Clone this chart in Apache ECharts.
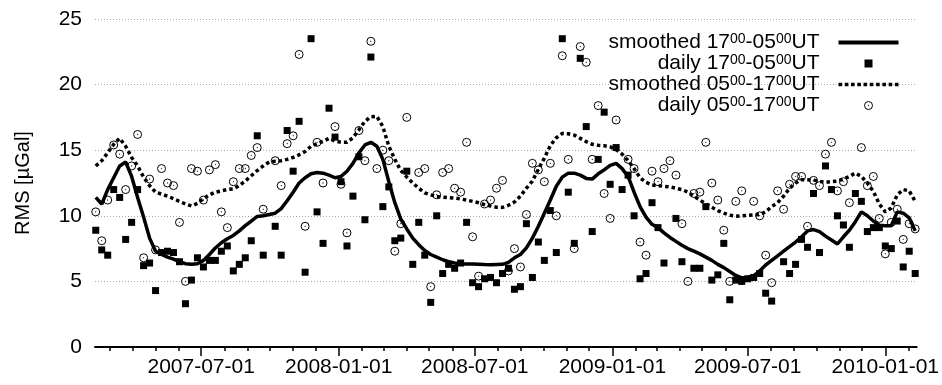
<!DOCTYPE html>
<html>
<head>
<meta charset="utf-8">
<script src="https://cdn.jsdelivr.net/npm/echarts@6.0.0/dist/echarts.min.js"></script>
<style>
  html, body { margin: 0; padding: 0; background: #fff; }
  #chart { width: 942px; height: 385px; }
</style>
</head>
<body>
<div id="chart"></div>
<script>
// sample dates (every 8 days)
const dates = [
  '2007-02-10','2007-02-18','2007-02-26','2007-03-06','2007-03-14','2007-03-22','2007-03-30',
  '2007-04-07','2007-04-15','2007-04-23','2007-05-01','2007-05-09','2007-05-17','2007-05-25',
  '2007-06-02','2007-06-10','2007-06-18','2007-06-26','2007-07-04','2007-07-12','2007-07-20',
  '2007-07-28','2007-08-05','2007-08-13','2007-08-21','2007-08-29','2007-09-06','2007-09-14',
  '2007-09-22','2007-09-30','2007-10-08','2007-10-16','2007-10-24','2007-11-01','2007-11-09',
  '2007-11-17','2007-11-25','2007-12-03','2007-12-11','2007-12-19','2007-12-27','2008-01-04',
  '2008-01-12','2008-01-20','2008-01-28','2008-02-05','2008-02-13','2008-02-21','2008-02-29',
  '2008-03-08','2008-03-16','2008-03-24','2008-04-01','2008-04-09','2008-04-17','2008-04-25',
  '2008-05-03','2008-05-11','2008-05-19','2008-05-27','2008-06-04','2008-06-12','2008-06-20',
  '2008-06-28','2008-07-06','2008-07-14','2008-07-22','2008-07-30','2008-08-07','2008-08-15',
  '2008-08-23','2008-08-31','2008-09-08','2008-09-16','2008-09-24','2008-10-02','2008-10-10',
  '2008-10-18','2008-10-26','2008-11-03','2008-11-11','2008-11-19','2008-11-27','2008-12-05',
  '2008-12-13','2008-12-21','2008-12-29','2009-01-06','2009-01-14','2009-01-22','2009-01-30',
  '2009-02-07','2009-02-15','2009-02-23','2009-03-03','2009-03-11','2009-03-19','2009-03-27',
  '2009-04-04','2009-04-12','2009-04-20','2009-04-28','2009-05-06','2009-05-14','2009-05-22',
  '2009-05-30','2009-06-07','2009-06-15','2009-06-23','2009-07-01','2009-07-09','2009-07-17',
  '2009-07-25','2009-08-02','2009-08-10','2009-08-18','2009-08-26','2009-09-03','2009-09-11',
  '2009-09-19','2009-09-27','2009-10-05','2009-10-13','2009-10-21','2009-10-29','2009-11-06',
  '2009-11-14','2009-11-22','2009-11-30','2009-12-08','2009-12-16','2009-12-24','2010-01-01',
  '2010-01-09','2010-01-17','2010-01-25','2010-02-02','2010-02-10'
];

// daily 17-05 UT (squares)
const nightDaily = [
  8.9, 7.4, 7.0, 12.0, 11.4, 8.2, 9.5,
  12.0, 6.2, 6.4, 4.3, 7.2, 7.3, 7.2,
  6.5, 3.3, 5.1, 6.8, 6.1, 6.6, 6.6,
  7.3, 7.7, 5.8, 6.3, 6.8, 8.1, 16.1,
  7.0, null, 9.2, 7.0, 16.5, 13.4, 17.2,
  5.7, 23.5, 10.3, 7.9, 18.2, 16.0, 12.6,
  7.7, 11.5, 14.5, 9.7, 22.1, null, 10.7,
  12.2, 8.1, 8.3, 13.4, 6.3, 9.5, 7.0,
  3.4, 10.0, 5.6, 6.3, 6.0, 6.4, 9.5,
  4.9, 4.6, 5.2, 5.3, 4.9, 5.6, 6.0,
  4.4, 4.6, 9.4, 5.3, 8.0, 6.6, 10.4,
  7.2, 23.5, 11.8, 7.9, 22.0, 16.8, 8.8,
  14.3, 17.9, 12.4, 15.2, 12.0, 13.1, 10.0,
  5.2, 5.6, 11.0, 9.1, 6.4, null, 9.8,
  6.5, null, 6.0, 6.0, 10.7, 5.1, 5.5,
  7.9, 3.6, 5.1, 5.0, 5.2, 5.3, 5.6,
  4.1, 3.5, null, 6.5, 5.6, 6.3, 8.2,
  7.6, 11.7, 7.2, 13.8, 12.0, 10.0, 9.3,
  7.6, 11.7, 11.1, 8.8, 9.1, 9.1, 7.7,
  7.5, 9.6, 6.1, 7.3, 5.6
];

// daily 05-17 UT (circles)
const dayDaily = [
  10.3, 8.1, 11.2, 15.4, 14.7, 12.0, 13.8,
  16.2, 6.8, 12.8, 7.4, 13.6, 12.5, 12.3,
  9.5, 5.0, 13.6, 13.4, 11.2, 13.5, 13.9,
  10.3, 9.1, 12.6, 13.6, 13.6, 14.6, 15.2,
  10.5, null, 14.2, 12.3, 15.5, 16.1, 22.3,
  9.2, null, 15.6, 12.5, null, 16.8, 12.4,
  8.7, null, 16.5, 14.2, 23.3, 13.6, 15.0,
  14.2, 7.3, 9.4, 17.5, null, 13.3, 13.6,
  4.6, 11.6, 13.3, 13.6, 12.1, 11.8, 15.6,
  8.4, 5.4, 10.9, 11.2, 12.1, 12.7, 5.8,
  7.5, 6.1, 10.1, 14.0, 13.5, 12.6, 14.0,
  10.0, 22.2, 14.3, 7.5, 22.9, 21.7, 14.3,
  18.4, 11.7, 9.8, 17.3, null, 14.3, 13.6,
  8.0, 7.0, 13.4, 12.6, 13.6, 14.2, 13.1,
  9.4, 5.0, 11.7, 11.8, 15.6, 12.5, 11.2,
  8.9, 5.0, 11.1, 11.9, null, 11.1, 10.0,
  7.0, 4.9, 11.9, 10.5, 12.4, 13.0, 13.0,
  9.2, 12.7, 12.3, 14.7, 15.6, 11.9, 12.6,
  11.0, null, 15.2, 12.3, 13.0, 9.8, 7.1,
  9.5, 10.5, 8.2, 9.4, 9.0
];

// smoothed 17-05 UT (solid)
const nightSmooth = [
  11.4, 10.9, 12.0, 12.9, 13.8, 14.1, 13.0,
  11.4, 9.9, 8.3, 7.3, 7.05, 6.85, 6.7,
  6.5, 6.35, 6.3, 6.35, 6.6, 7.05, 7.55,
  7.95, 8.25, 8.5, 8.85, 9.25, 9.6, 9.95,
  10.0, 10.1, 10.2, 10.55, 11.15, 11.8, 12.5,
  12.9, 13.2, 13.3, 13.25, 13.1, 12.9, 13.0,
  13.4, 14.0, 14.8, 15.4, 15.6, 15.3, 14.3,
  12.6, 11.0, 9.75, 9.0, 8.3, 7.8, 7.35,
  7.05, 6.85, 6.65, 6.5, 6.4, 6.35, 6.33,
  6.32, 6.31, 6.28, 6.26, 6.28, 6.3, 6.45,
  6.8, 7.05, 7.55, 8.3, 9.2, 10.2, 11.2,
  12.25, 12.95, 13.25, 13.25, 13.1, 12.85, 12.8,
  13.2, 13.5, 13.85, 14.0, 13.6, 13.0, 11.8,
  10.7, 9.9, 9.35, 9.1, 8.7, 8.35, 8.05,
  7.75, 7.5, 7.3, 7.1, 6.85, 6.6, 6.3,
  6.05, 5.75, 5.45, 5.27, 5.3, 5.42, 5.8,
  6.25, 6.6, 6.95, 7.3, 7.65, 8.0, 8.4,
  8.85, 8.95, 8.8, 8.45, 8.15, 7.85, 8.4,
  8.9, 9.55, 10.3, 10.0, 9.6, 9.28, 9.24,
  9.24, 10.3, 10.2, 9.85, 8.85
];

// smoothed 05-17 UT (dotted)
const daySmooth = [
  13.8, 14.2, 14.8, 15.45, 15.9, 15.3, 14.45,
  13.8, 12.95, 12.3, 11.8, 11.65, 11.5, 11.3,
  11.1, 10.9, 10.75, 10.95, 11.3, 11.6, 11.8,
  11.9, 12.0, 12.05, 12.3, 12.65, 13.05, 13.45,
  13.8, 14.1, 14.15, 14.2, 14.3, 14.45, 14.65,
  14.9, 15.3, 15.5, 15.67, 15.9, 15.7, 15.6,
  15.6, 15.95, 16.55, 17.2, 17.55, 17.58, 16.8,
  15.3, 14.3, 13.45, 12.95, 12.5, 12.1, 11.75,
  11.6, 11.47, 11.42, 11.38, 11.35, 11.28, 11.2,
  11.1, 11.0, 10.85, 10.75, 10.65, 10.64, 10.8,
  11.05, 11.5, 12.1, 12.65, 13.55, 14.4, 15.35,
  15.95, 16.28, 16.25, 16.15, 15.9, 15.65, 15.45,
  15.37, 15.34, 15.25, 15.05, 14.7, 14.2, 13.6,
  12.9, 12.55, 12.35, 12.29, 12.25, 12.2, 12.1,
  12.0, 11.8, 11.5, 11.2, 10.9, 10.65, 10.4,
  10.2, 10.05, 9.97, 10.0, 10.03, 10.06, 10.1,
  10.3, 10.7, 11.0, 11.5, 12.1, 12.5, 12.75,
  12.75, 12.72, 12.62, 12.55, 12.6, 12.65, 12.8,
  13.0, 13.26, 13.0, 12.5, 11.86, 10.9, 10.3,
  10.6, 11.6, 12.0, 11.9, 11.1
];

// axis
const xLabels = ['2007-07-01', '2008-01-01', '2008-07-01', '2009-01-01', '2009-07-01', '2010-01-01'];
const xMin = '2007-02-09';
const xMax = '2010-02-12';
const yTicks = [0, 5, 10, 15, 20, 25];

const FONT = 'Liberation Sans, Arial, Helvetica, sans-serif';

function toTime(s) {
  const p = s.split('-').map(Number);
  return Date.UTC(p[0], p[1] - 1, p[2]);
}
function pad(n) { return (n < 10 ? '0' : '') + n; }
function fmtDate(v) {
  const d = new Date(v);
  return d.getUTCFullYear() + '-' + pad(d.getUTCMonth() + 1) + '-' + pad(d.getUTCDate());
}
function pairs(vals) {
  const out = [];
  vals.forEach(function (v, i) { if (v != null) out.push([toTime(dates[i]), v]); });
  return out;
}

// monthly minor ticks
const monthTicks = [];
for (let y = 2007; y <= 2010; y++) {
  for (let m = 0; m < 12; m++) {
    const t = Date.UTC(y, m, 1);
    if (t >= toTime(xMin) && t <= toTime(xMax)) monthTicks.push(t);
  }
}
const labelTicks = xLabels.map(toTime);

// symbols, legend icons (60 x 9 box)
const circleDot = 'path://M0,10a10,10 0 1,0 20,0a10,10 0 1,0 -20,0zM9.4,10a0.6,0.6 0 1,0 1.2,0a0.6,0.6 0 1,0 -1.2,0z';
const iconSolid = 'path://M0,0M60,9M0,2.6h60v3.8h-60z';
let iconDotted = 'path://M0,0M60,9';
for (let k = 0; k < 10; k++) iconDotted += 'M' + (k * 6.3) + ',2.75h3.6v3.5h-3.6z';
const iconSquare = 'path://M0,0M60,9M26,0.5h8v8h-8z';
const iconCircle = 'path://M0,0M60,9M34,4.5a4,4 0 1,0 -8,0a4,4 0 1,0 8,0zM30.3,4.5a0.3,0.3 0 1,0 -0.6,0a0.3,0.3 0 1,0 0.6,0z';

const legendText = {
  'smoothed 17-05': '{n|smoothed 17}{s|00}{n|-05}{s|00}{u|UT}',
  'daily 17-05': '{n|daily 17}{s|00}{n|-05}{s|00}{u|UT}',
  'smoothed 05-17': '{n|smoothed 05}{s|00}{n|-17}{s|00}{u|UT}',
  'daily 05-17': '{n|daily 05}{s|00}{n|-17}{s|00}{u|UT}'
};

const chart = echarts.init(document.getElementById('chart'), null, { renderer: 'canvas' });

chart.setOption({
  backgroundColor: '#fff',
  animation: false,
  grid: { left: 95, right: 21, top: 19, bottom: 38 },
  legend: {
    orient: 'vertical',
    right: 38,
    top: 27,
    align: 'right',
    itemWidth: 60,
    itemHeight: 9,
    itemGap: 0,
    selectedMode: false,
    formatter: function (name) { return legendText[name]; },
    textStyle: {
      color: '#000',
      fontFamily: FONT,
      fontSize: 21,
      rich: {
        n: { fontFamily: FONT, fontSize: 21, lineHeight: 21, color: '#000' },
        s: { fontFamily: FONT, fontSize: 14, lineHeight: 10, verticalAlign: 'top', color: '#000' },
        u: { fontFamily: FONT, fontSize: 21, lineHeight: 21, color: '#000', padding: [0, 14, 0, 0] }
      }
    },
    data: [
      { name: 'smoothed 17-05', icon: iconSolid, itemStyle: { color: '#000', borderWidth: 0 } },
      { name: 'daily 17-05', icon: iconSquare, itemStyle: { color: '#000', borderWidth: 0 } },
      { name: 'smoothed 05-17', icon: iconDotted, itemStyle: { color: '#000', borderWidth: 0 } },
      { name: 'daily 05-17', icon: iconCircle, itemStyle: { color: 'rgba(0,0,0,0)', borderColor: '#000', borderWidth: 1 } }
    ]
  },
  xAxis: [
    {
      type: 'value',
      min: toTime(xMin),
      max: toTime(xMax),
      axisLine: { show: true, lineStyle: { color: '#000', width: 2 } },
      axisTick: { show: true, length: 4, lineStyle: { color: '#000', width: 1.5 }, customValues: monthTicks },
      axisLabel: { show: false },
      splitLine: { show: false }
    },
    {
      type: 'value',
      position: 'bottom',
      min: toTime(xMin),
      max: toTime(xMax),
      axisLine: { show: false },
      axisTick: { show: true, length: 9, lineStyle: { color: '#000', width: 1.5 }, customValues: labelTicks },
      axisLabel: {
        show: true,
        customValues: labelTicks,
        margin: 10,
        color: '#000',
        fontFamily: FONT,
        fontSize: 21,
        formatter: function (v) { return fmtDate(v); }
      },
      splitLine: { show: false }
    }
  ],
  yAxis: {
    type: 'value',
    min: yTicks[0],
    max: yTicks[yTicks.length - 1],
    interval: 5,
    name: 'RMS [µGal]',
    nameLocation: 'middle',
    nameGap: 62,
    nameTextStyle: { color: '#000', fontFamily: FONT, fontSize: 20 },
    axisLine: { show: false },
    axisTick: { show: false },
    axisLabel: { color: '#000', fontFamily: FONT, fontSize: 21, margin: 13 },
    splitLine: { show: true, lineStyle: { color: '#aaa', width: 1, type: [1, 2] } }
  },
  series: [
    {
      name: 'smoothed 17-05',
      type: 'line',
      data: pairs(nightSmooth),
      symbol: 'none',
      itemStyle: { color: '#000' },
      lineStyle: { color: '#000', width: 3.5 }
    },
    {
      name: 'daily 17-05',
      type: 'scatter',
      data: pairs(nightDaily),
      symbol: 'rect',
      symbolSize: 7,
      itemStyle: { color: '#000', opacity: 1 }
    },
    {
      name: 'smoothed 05-17',
      type: 'line',
      data: pairs(daySmooth),
      symbol: 'none',
      itemStyle: { color: '#000' },
      lineStyle: { color: '#000', width: 3.5, type: [3.5, 3], cap: 'butt' }
    },
    {
      name: 'daily 05-17',
      type: 'scatter',
      data: pairs(dayDaily),
      symbol: circleDot,
      symbolSize: 8,
      itemStyle: { color: 'rgba(0,0,0,0)', borderColor: '#000', borderWidth: 1, opacity: 1 }
    }
  ]
});
</script>
</body>
</html>
